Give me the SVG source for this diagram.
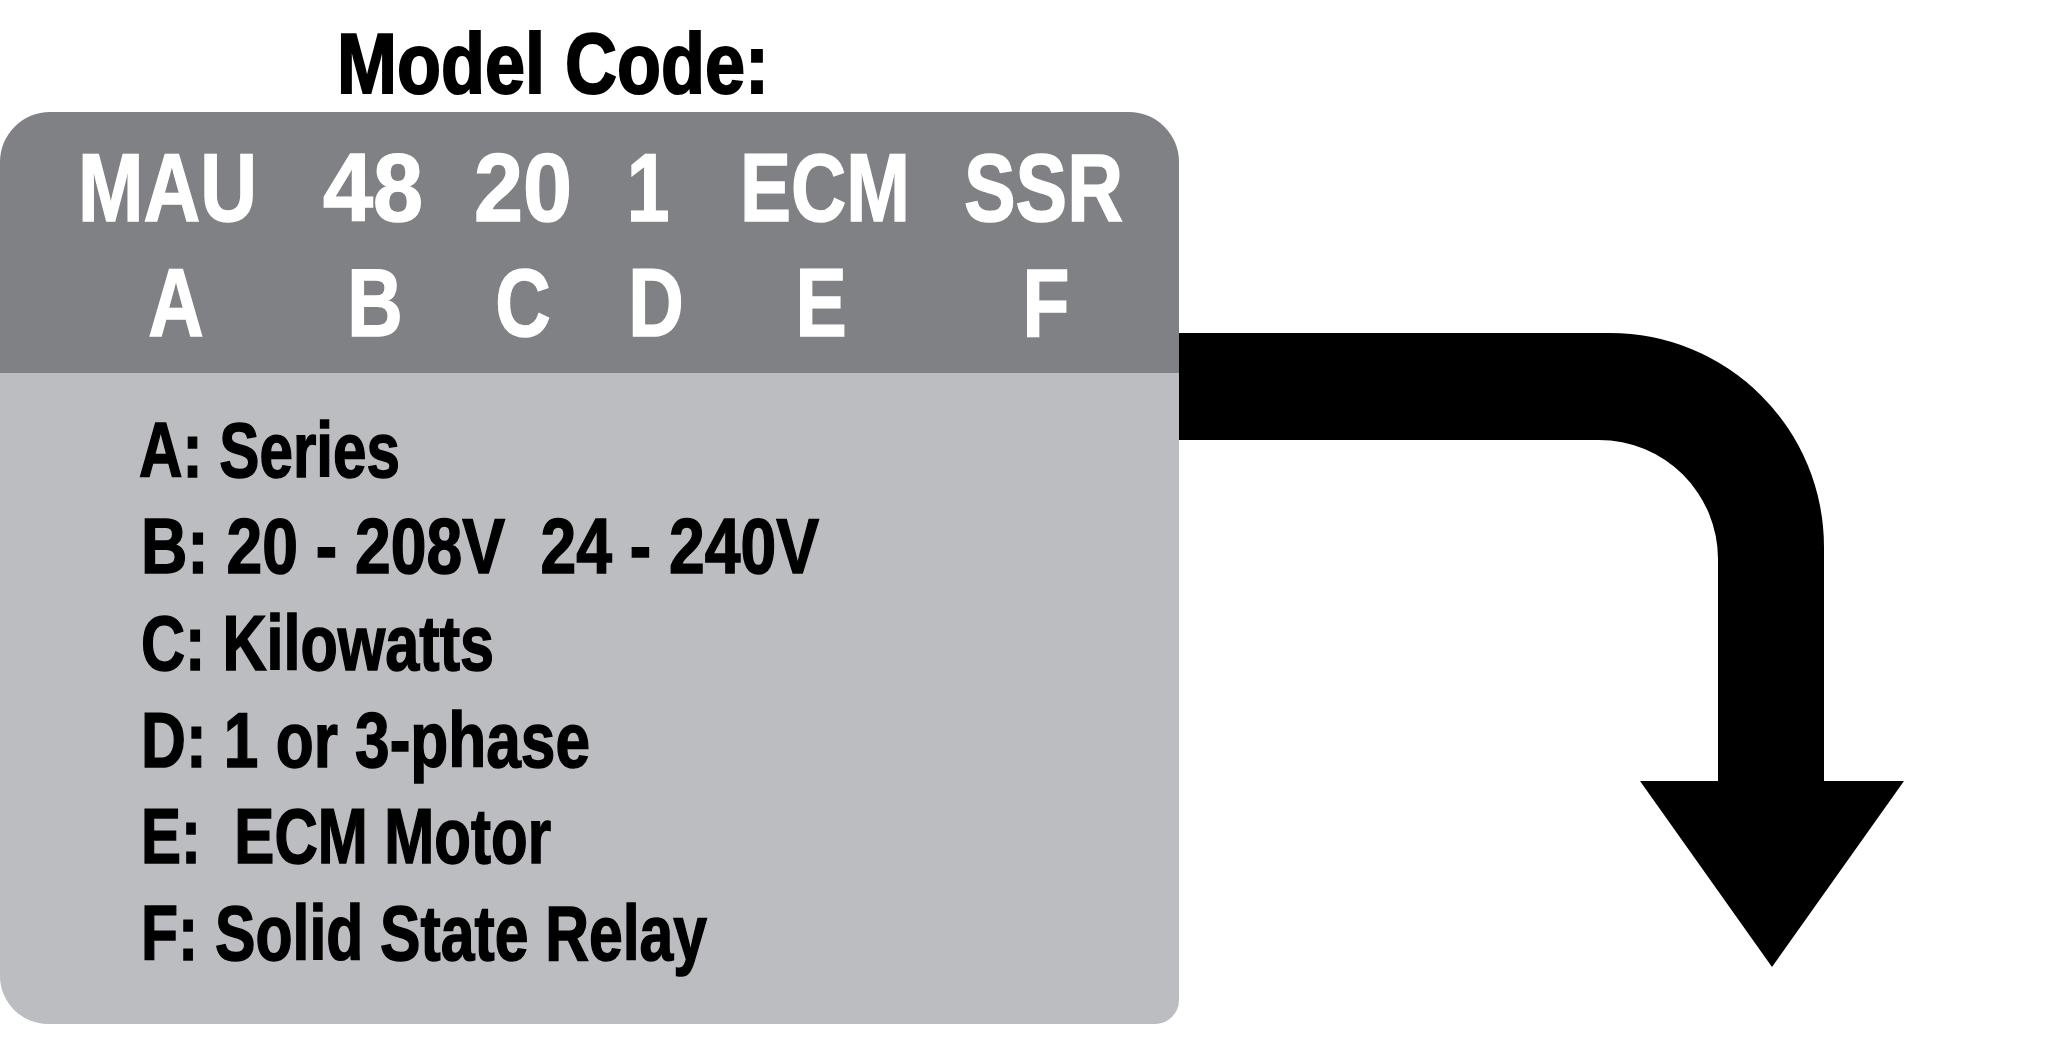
<svg xmlns="http://www.w3.org/2000/svg" width="2048" height="1051" viewBox="0 0 2048 1051">
<style>
.t{font-family:"Liberation Sans",Arial,sans-serif;font-weight:bold;white-space:pre}
.w{fill:#ffffff;stroke:#ffffff;stroke-width:1.5px;font-size:96px}
.b{fill:#000000;stroke:#000000;stroke-width:1.5px;font-size:78px}
</style>
<rect width="2048" height="1051" fill="#ffffff"/>
<g id="connectors">
<path d="M 1170 333 L 1610 333 A 214 214 0 0 1 1824 547 L 1824 781 L 1904 781 L 1772 967 L 1640 781 L 1718 781 L 1718 559 A 119 119 0 0 0 1599 440 L 1170 440 Z" fill="#000000"/>
</g>
<g id="title">
<text class="t" x="337" y="93" font-size="85" fill="#000000" stroke="#000000" stroke-width="2" textLength="432" lengthAdjust="spacingAndGlyphs">Model Code:</text>
</g>
<g id="panel">
<path d="M 0 373 L 0 162 A 50 50 0 0 1 50 112 L 1129 112 A 50 50 0 0 1 1179 162 L 1179 373 Z" fill="#808184"/>
<path d="M 0 373 L 1179 373 L 1179 1000 A 24 24 0 0 1 1155 1024 L 48 1024 A 48 48 0 0 1 0 976 Z" fill="#BCBDC1"/>
</g>
<g id="code-row">
<text class="t w" x="78" y="221" textLength="179" lengthAdjust="spacingAndGlyphs">MAU</text>
<text class="t w" x="323" y="221" textLength="100" lengthAdjust="spacingAndGlyphs">48</text>
<text class="t w" x="474" y="221" textLength="98" lengthAdjust="spacingAndGlyphs">20</text>
<text class="t w" text-anchor="middle" transform="translate(648,221) scale(0.8,1)">1</text>
<text class="t w" x="740" y="221" textLength="170" lengthAdjust="spacingAndGlyphs">ECM</text>
<text class="t w" x="964" y="221" textLength="159" lengthAdjust="spacingAndGlyphs">SSR</text>
</g>
<g id="letter-row">
<text class="t w" text-anchor="middle" transform="translate(176,336) scale(0.8,1)">A</text>
<text class="t w" text-anchor="middle" transform="translate(375,336) scale(0.8,1)">B</text>
<text class="t w" text-anchor="middle" transform="translate(523,336) scale(0.8,1)">C</text>
<text class="t w" text-anchor="middle" transform="translate(656,336) scale(0.8,1)">D</text>
<text class="t w" text-anchor="middle" transform="translate(821,336) scale(0.8,1)">E</text>
<text class="t w" text-anchor="middle" transform="translate(1046,336) scale(0.8,1)">F</text>
</g>
<g id="legend">
<text class="t b" x="139" y="477" textLength="261" lengthAdjust="spacingAndGlyphs">A: Series</text>
<text class="t b" x="141" y="573" textLength="678" lengthAdjust="spacingAndGlyphs">B: 20 - 208V  24 - 240V</text>
<text class="t b" x="141" y="670" textLength="353" lengthAdjust="spacingAndGlyphs">C: Kilowatts</text>
<text class="t b" x="141" y="767" textLength="449" lengthAdjust="spacingAndGlyphs">D: 1 or 3-phase</text>
<text class="t b" x="141" y="863" textLength="410" lengthAdjust="spacingAndGlyphs">E:  ECM Motor</text>
<text class="t b" x="141" y="960" textLength="566" lengthAdjust="spacingAndGlyphs">F: Solid State Relay</text>
</g>
</svg>
